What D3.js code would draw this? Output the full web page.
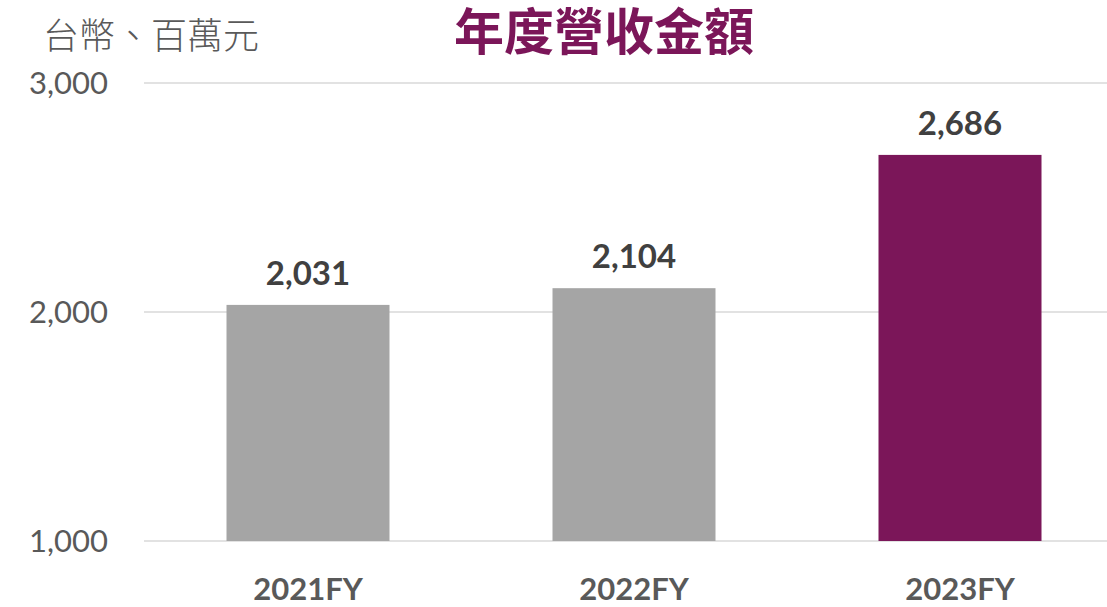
<!DOCTYPE html>
<html>
<head>
<meta charset="utf-8">
<script src="https://cdn.jsdelivr.net/npm/d3@7/dist/d3.min.js"></script>
<style>
  body { margin: 0; background: #fff; }
  svg { display: block; }
</style>
</head>
<body>
<svg class="chart"></svg>
<script>
let years = ["2021FY", "2022FY", "2023FY"];
let revenue = [2031, 2104, 2686];
let barColors = ["#A5A5A5", "#A5A5A5", "#7B1659"];
let yTicks = [1000, 2000, 3000];

let width = 1107;
let height = 607;

let svg = d3.select(".chart")
  .attr("width", width)
  .attr("height", height);

let x = d3.scaleBand()
  .domain(years)
  .range([145, 1123])
  .paddingInner(0.5)
  .paddingOuter(0.25);

let y = d3.scaleLinear()
  .domain([1000, 3000])
  .range([541, 83]);

let fmt = d3.format(",");

// gridlines
svg.selectAll("line.grid")
  .data(yTicks)
  .enter()
  .append("line")
  .attr("class", "grid")
  .attr("x1", 144)
  .attr("x2", width)
  .attr("y1", d => y(d))
  .attr("y2", d => y(d))
  .attr("stroke", "#D9D9D9")
  .attr("stroke-width", 1.5);

// y tick labels
svg.selectAll("text.ytick")
  .data(yTicks)
  .enter()
  .append("text")
  .attr("class", "ytick")
  .attr("x", 108)
  .attr("y", d => y(d))
  .attr("dy", "0.36em")
  .attr("text-anchor", "end")
  .style("font-family", "Lato, 'Open Sans', sans-serif")
  .style("font-size", "31px")
  .style("fill", "#595959")
  .text(d => fmt(d));

// bars
svg.selectAll("rect.bar")
  .data(revenue)
  .enter()
  .append("rect")
  .attr("class", "bar")
  .attr("x", (d, i) => x(years[i]))
  .attr("width", x.bandwidth())
  .attr("y", d => y(d))
  .attr("height", d => y(1000) - y(d))
  .style("fill", (d, i) => barColors[i]);

// value labels
svg.selectAll("text.val")
  .data(revenue)
  .enter()
  .append("text")
  .attr("class", "val")
  .attr("x", (d, i) => x(years[i]) + x.bandwidth() / 2)
  .attr("y", d => y(d) - 20)
  .attr("text-anchor", "middle")
  .style("font-family", "Lato, 'Open Sans', sans-serif")
  .style("font-weight", "bold")
  .style("font-size", "33px")
  .style("fill", "#404040")
  .text(d => fmt(d));

// category labels
svg.selectAll("text.cat")
  .data(years)
  .enter()
  .append("text")
  .attr("class", "cat")
  .attr("x", d => x(d) + x.bandwidth() / 2)
  .attr("y", 600)
  .attr("text-anchor", "middle")
  .style("font-family", "Lato, 'Open Sans', sans-serif")
  .style("font-weight", "bold")
  .style("font-size", "31px")
  .style("fill", "#595959")
  .text(d => d);

// unit label
svg.append("text")
  .attr("x", 43)
  .attr("y", 49)
  .style("font-family", "'Noto Sans CJK TC', sans-serif")
  .style("font-size", "36px")
  .style("font-weight", "300")
  .style("fill", "#595959")
  .text("台幣、百萬元");

// title
svg.append("text")
  .attr("x", 604)
  .attr("y", 50)
  .attr("text-anchor", "middle")
  .style("font-family", "'Noto Sans CJK TC', sans-serif")
  .style("font-size", "50px")
  .style("font-weight", "bold")
  .style("fill", "#7B1659")
  .text("年度營收金額");
</script>
</body>
</html>
